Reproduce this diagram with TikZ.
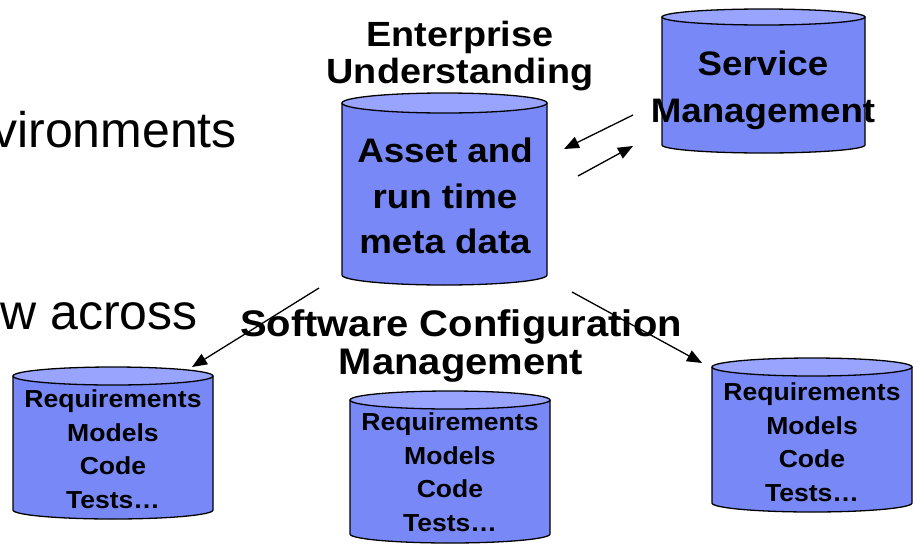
\documentclass[tikz,border=0pt]{standalone}
\usepackage{fontspec}
\setmainfont{Liberation Sans}
\newfontfamily\lblfont[FakeStretch=1.08]{Liberation Sans}
\usetikzlibrary{arrows.meta}
\definecolor{cylbodyc}{RGB}{120,137,247}
\definecolor{cyltopc}{RGB}{152,164,253}
\tikzset{
  cylbody/.style={fill=cylbodyc, draw=black, line width=1.3pt, line join=round},
  cyltop/.style={fill=cyltopc, draw=black, line width=1.3pt},
  biglbl/.style={inner sep=0pt, align=center, font=\lblfont\bfseries\fontsize{35}{37}\selectfont},
  cyltext/.style={inner sep=0pt, align=center, font=\lblfont\bfseries\fontsize{34}{45.5}\selectfont},
  smalltext/.style={inner sep=0pt, align=center, font=\lblfont\bfseries\fontsize{24.6}{33.5}\selectfont},
  plaintext/.style={inner sep=0pt, anchor=base east, font=\fontsize{50}{60}\selectfont},
  link/.style={line width=1.3pt, -{Triangle[length=15pt,width=12pt]}}
}
% #1 left x, #2 right x, #3 top-ellipse centre y, #4 bottom-ellipse centre y, #5 y radius
\newcommand\dbcyl[5]{%
  \pgfmathsetmacro\cxx{(#1+#2)/2}%
  \pgfmathsetmacro\rxx{(#2-#1)/2}%
  \pgfmathsetmacro\kx{0.5523*\rxx}%
  \pgfmathsetmacro\ky{0.5523*#5}%
  \filldraw[cylbody] (#1,#3) -- (#1,#4) .. controls (#1,#4+\ky) and (\cxx-\kx,#4+#5) .. (\cxx,#4+#5)
     .. controls (\cxx+\kx,#4+#5) and (#2,#4+\ky) .. (#2,#4) -- (#2,#3) -- cycle;
  \filldraw[cyltop] (#2,#3)
     .. controls (#2,#3+\ky) and (\cxx+\kx,#3+#5) .. (\cxx,#3+#5)
     .. controls (\cxx-\kx,#3+#5) and (#1,#3+\ky) .. (#1,#3)
     .. controls (#1,#3-\ky) and (\cxx-\kx,#3-#5) .. (\cxx,#3-#5)
     .. controls (\cxx+\kx,#3-#5) and (#2,#3-\ky) .. (#2,#3) -- cycle;
}
\begin{document}
\begin{tikzpicture}[x=1pt,y=-1pt]
\useasboundingbox (0,0) rectangle (920,544);
\fill[white] (0,0) rectangle (920,544);

% background slide text (cut off at the left edge)
\node[plaintext] (env) at (237,147) {vironments};
\node[plaintext] (across) at (198,329) {w across};

% cylinders
\dbcyl{342}{547}{103}{275}{10}
\dbcyl{662}{865}{17}{145}{8}
\dbcyl{13}{213}{376}{510}{9}
\dbcyl{350}{550}{400}{534}{9}
\dbcyl{712}{912}{367}{503}{9}

% cylinder texts
\node[cyltext] (asset) at (445,196) {Asset and\\run time\\meta data};
\node[cyltext, font=\lblfont\bfseries\fontsize{34}{47}\selectfont] (service) at (763,90) {Service\\Management};
\node[smalltext] (repoL) at (113,449) {Requirements\\Models\\Code\\Tests…};
\node[smalltext] (repoM) at (450,472) {Requirements\\Models\\Code\\Tests…};
\node[smalltext] (repoR) at (812,442) {Requirements\\Models\\Code\\Tests…};

% labels
\node[biglbl] (ent) at (460,56) {Enterprise\\Understanding};
\node[biglbl, font=\lblfont\bfseries\fontsize{37}{38}\selectfont] (scm) at (461,346) {Software Configuration\\Management};

% connectors
\coordinate (a1s) at (319,288);
\coordinate (a1e) at (192,367);
\coordinate (a2s) at (572,292);
\coordinate (a2e) at (702,363);
\coordinate (a3s) at (633,115);
\coordinate (a3e) at (564,149);
\coordinate (a4s) at (578,176);
\coordinate (a4e) at (633,146);
\draw[link] (a1s) -- (a1e);
\draw[link] (a2s) -- (a2e);
\draw[link] (a3s) -- (a3e);
\draw[link] (a4s) -- (a4e);
\end{tikzpicture}
\end{document}
